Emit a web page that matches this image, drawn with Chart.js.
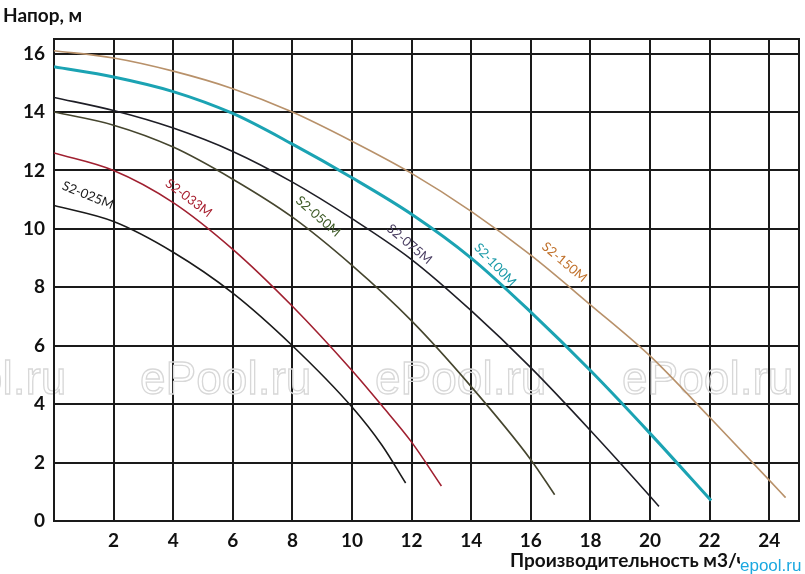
<!DOCTYPE html>
<html>
<head>
<meta charset="utf-8">
<script src="https://cdn.jsdelivr.net/npm/chart.js@4"></script>
<style>
  body { margin: 0; background: #fff; }
  #pumpChart { display: block; }
</style>
</head>
<body>
<canvas id="pumpChart" width="805" height="574"></canvas>
<script>
// pump curves: flow (m3/h) and head (m)
const flow025 = [0, 2, 4, 6, 8, 10, 11, 11.8];
const head025 = [10.8, 10.25, 9.2, 7.8, 6.0, 3.9, 2.6, 1.3];
const flow033 = [0, 2, 4, 6, 8, 10, 11, 12, 13];
const head033 = [12.6, 12.0, 10.9, 9.3, 7.35, 5.15, 3.95, 2.7, 1.2];
const flow050 = [0, 2, 4, 6, 8, 10, 12, 14, 16, 16.8];
const head050 = [14.0, 13.55, 12.8, 11.7, 10.4, 8.75, 6.85, 4.6, 2.1, 0.9];
const flow075 = [0, 2, 4, 6, 8, 10, 12, 14, 16, 18, 20, 20.3];
const head075 = [14.5, 14.05, 13.45, 12.65, 11.6, 10.35, 8.95, 7.2, 5.25, 3.1, 0.85, 0.5];
const flow100 = [0, 2, 4, 6, 8, 10, 12, 14, 16, 18, 20, 22.05];
const head100 = [15.55, 15.2, 14.7, 13.95, 12.9, 11.75, 10.5, 9.0, 7.15, 5.15, 3.0, 0.7];
const flow150 = [0, 2, 4, 6, 8, 10, 12, 14, 16, 18, 20, 22, 24, 24.55];
const head150 = [16.1, 15.85, 15.4, 14.8, 14.0, 13.0, 11.9, 10.6, 9.1, 7.4, 5.65, 3.55, 1.4, 0.8];

const xTicks = [2, 4, 6, 8, 10, 12, 14, 16, 18, 20, 22, 24];
const yTicks = [0, 2, 4, 6, 8, 10, 12, 14, 16];

const models = ["S2-025M", "S2-033M", "S2-050M", "S2-075M", "S2-100M", "S2-150M"];
const labelFlow = [1.06, 4.4, 8.73, 11.8, 14.66, 17.0];
const labelHead = [10.96, 10.89, 10.27, 9.32, 8.63, 8.7];
const labelAngle = [22, 37, 41, 40, 46, 40];
const labelColors = ["#1a1a1a", "#a82030", "#3d5a26", "#4b3f63", "#1a9aa8", "#c0702a"];

function pts(xs, ys) {
  return xs.map((x, i) => ({ x: x, y: ys[i] }));
}

function curve(label, xs, ys, color, width) {
  return {
    label: label,
    data: pts(xs, ys),
    showLine: true,
    borderColor: color,
    borderWidth: width,
    pointRadius: 0,
    cubicInterpolationMode: "monotone",
  };
}

const decor = {
  id: "decor",
  beforeDatasetsDraw(chart) {
    const c = chart.ctx;
    c.save();
    // watermark
    c.font = "46px 'Liberation Sans', Arial, sans-serif";
    c.strokeStyle = "#d8d8d8";
    c.lineWidth = 1.3;
    [-105, 140, 375, 622].forEach((x) => c.strokeText("ePool.ru", x, 394));
    // frame
    const a = chart.chartArea;
    c.strokeStyle = "#1a1a1a";
    c.lineWidth = 2;
    c.strokeRect(a.left, a.top, a.right - a.left, a.bottom - a.top);
    c.restore();
  },
  afterDatasetsDraw(chart) {
    const c = chart.ctx;
    const xs = chart.scales.x;
    const ys = chart.scales.y;
    c.save();
    c.font = "13px Lato, sans-serif";
    c.textAlign = "center";
    c.textBaseline = "middle";
    models.forEach((m, i) => {
      c.save();
      c.translate(xs.getPixelForValue(labelFlow[i]), ys.getPixelForValue(labelHead[i]));
      c.rotate((labelAngle[i] * Math.PI) / 180);
      c.fillStyle = labelColors[i];
      c.fillText(m, 0, -6);
      c.restore();
    });
    c.fillStyle = "#111";
    c.textAlign = "left";
    c.textBaseline = "alphabetic";
    c.font = "bold 19px Lato, sans-serif";
    c.fillText("Напор, м", 3, 22);
    c.fillText("Производительность м3/ч", 510, 567);
    c.fillStyle = "#fff";
    c.fillRect(740, 557, 65, 16);
    c.fillStyle = "#1aa8e0";
    c.font = "17px 'Liberation Sans', Arial, sans-serif";
    c.fillText("epool.ru", 740, 571);
    c.restore();
  },
};

new Chart(document.getElementById("pumpChart"), {
  type: "scatter",
  data: {
    datasets: [
      curve(models[0], flow025, head025, "#1a1a1a", 1.6),
      curve(models[1], flow033, head033, "#a02030", 1.6),
      curve(models[2], flow050, head050, "#45452e", 1.6),
      curve(models[3], flow075, head075, "#1e1e26", 1.6),
      curve(models[4], flow100, head100, "#1ba3b3", 3),
      curve(models[5], flow150, head150, "#b8916a", 1.6),
    ],
  },
  options: {
    responsive: false,
    animation: false,
    layout: { padding: { top: 39, right: 6, left: 0, bottom: 0 } },
    plugins: { legend: { display: false }, tooltip: { enabled: false } },
    scales: {
      x: {
        type: "linear",
        min: 0,
        max: 25,
        afterBuildTicks: (s) => { s.ticks = xTicks.map((v) => ({ value: v })); },
        afterFit: (s) => { s.height = 53; },
        grid: { color: "#1a1a1a", lineWidth: 2, drawTicks: false },
        border: { display: false },
        ticks: { color: "#111", padding: 8, font: { family: "Lato", size: 19, weight: "bold" } },
      },
      y: {
        type: "linear",
        min: 0,
        max: 16.5,
        afterBuildTicks: (s) => { s.ticks = yTicks.map((v) => ({ value: v })); },
        afterFit: (s) => { s.width = 54; },
        grid: { color: "#1a1a1a", lineWidth: 2, drawTicks: false },
        border: { display: false },
        ticks: { color: "#111", padding: 9, font: { family: "Lato", size: 19, weight: "bold" } },
      },
    },
  },
  plugins: [decor],
});
</script>
</body>
</html>
